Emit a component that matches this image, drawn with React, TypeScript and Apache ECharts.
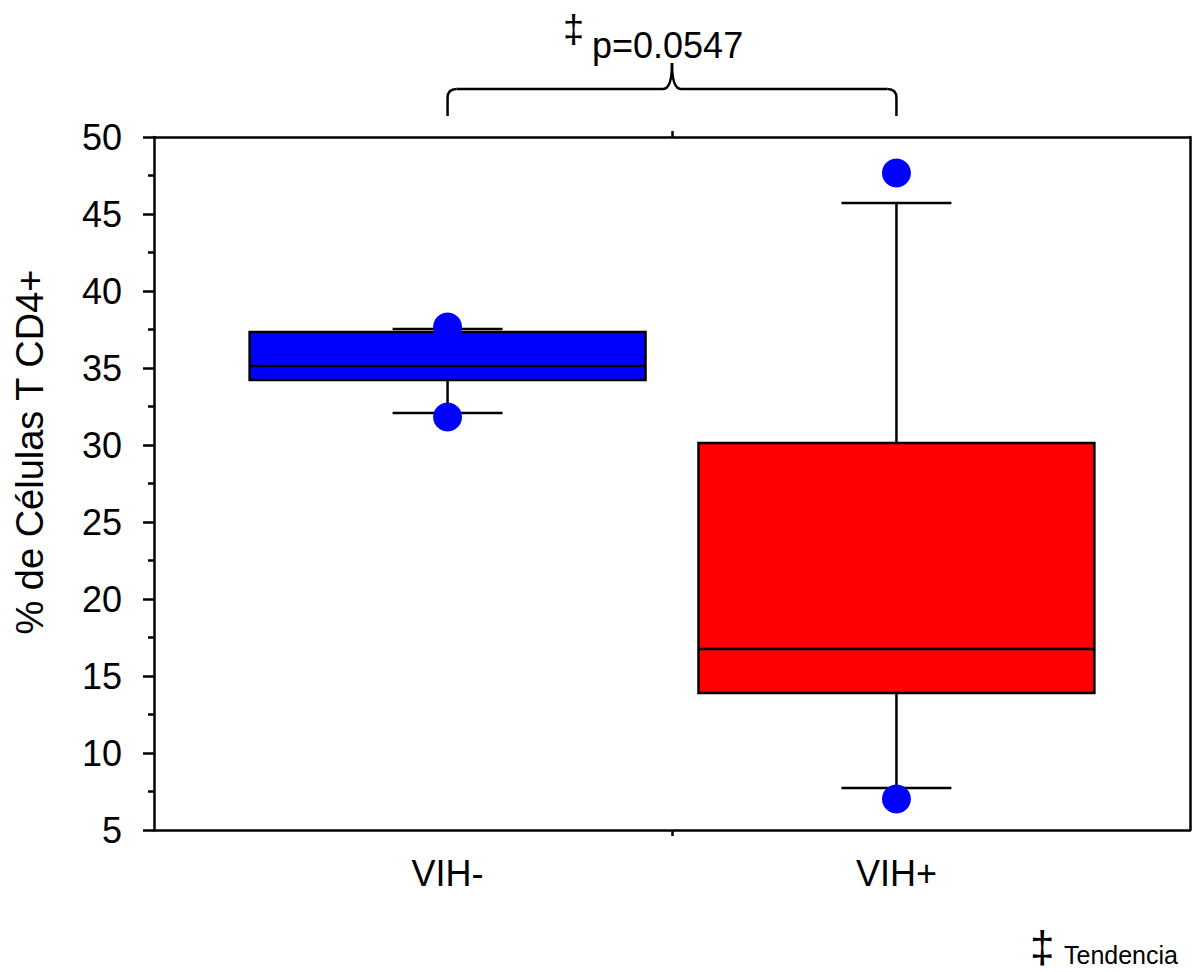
import React, { useEffect, useRef } from "react";
import * as echarts from "echarts";

const categories = ["VIH-", "VIH+"];
const positions = [1, 2];
// [low whisker, q1, median, q3, high whisker]
const boxStats = [
  [32.08, 34.22, 35.13, 37.34, 37.53],
  [7.73, 13.9, 16.75, 30.13, 45.71],
];
const boxColors = ["#0000ff", "#ff0000"];
const pointValues = [
  [1, 37.66],
  [1, 31.82],
  [2, 47.66],
  [2, 7.01],
];
const yTicks = { min: 5, max: 50, interval: 5 };
const pText = "p=0.0547";
const noteText = "Tendencia";
const yTitle = "% de Células T CD4+";

const FONT = "'Liberation Sans', Arial, sans-serif";

export default function App() {
  const ref = useRef<HTMLDivElement>(null);
  useEffect(() => {
    const chart = echarts.init(ref.current!, null, { renderer: "svg" });
    const boxData = positions.map((p, i) => [p, ...boxStats[i]]);
    const option: any = {
      animation: false,
      backgroundColor: "#ffffff",
      grid: { left: 154, right: 8, top: 137, bottom: 142 },
      xAxis: [
        {
          type: "value",
          min: 0.346,
          max: 2.654,
          position: "bottom",
          splitLine: { show: false },
          axisLine: { show: true, lineStyle: { color: "#000", width: 2.5 } },
          axisTick: { show: true, customValues: [1.5], length: 6, lineStyle: { color: "#000", width: 2.5 } },
          axisLabel: {
            show: true,
            customValues: positions,
            formatter: (v: number) => categories[positions.indexOf(Math.round(v))] ?? "",
            color: "#000",
            fontFamily: FONT,
            fontSize: 36,
            margin: 25,
          },
        },
        {
          type: "value",
          min: 0.346,
          max: 2.654,
          position: "top",
          splitLine: { show: false },
          axisLine: { show: true, onZero: false, lineStyle: { color: "#000", width: 2.5 } },
          axisTick: { show: true, customValues: [1.5], length: 6, lineStyle: { color: "#000", width: 2.5 } },
          axisLabel: { show: false },
        },
      ],
      yAxis: [
        {
          type: "value",
          min: yTicks.min,
          max: yTicks.max,
          interval: yTicks.interval,
          position: "left",
          splitLine: { show: false },
          axisLine: { show: true, onZero: false, lineStyle: { color: "#000", width: 2.5 } },
          axisTick: { show: true, length: 11, lineStyle: { color: "#000", width: 2.5 } },
          minorTick: { show: true, splitNumber: 2, length: 6, lineStyle: { color: "#000", width: 2.5 } },
          axisLabel: { color: "#000", fontFamily: FONT, fontSize: 36, margin: 32 },
        },
        {
          type: "value",
          min: yTicks.min,
          max: yTicks.max,
          position: "right",
          splitLine: { show: false },
          axisLine: { show: true, onZero: false, lineStyle: { color: "#000", width: 2.5 } },
          axisTick: { show: false },
          axisLabel: { show: false },
        },
      ],
      series: [
        {
          type: "custom",
          xAxisIndex: 0,
          yAxisIndex: 0,
          data: boxData,
          encode: { x: 0, y: [1, 2, 3, 4, 5] },
          renderItem: (params: any, api: any) => {
            const x = api.value(0);
            const lo = api.value(1), q1 = api.value(2), med = api.value(3), q3 = api.value(4), hi = api.value(5);
            const half = api.size([0.441, 0])[0];
            const cap = api.size([0.1225, 0])[0];
            const pLo = api.coord([x, lo]);
            const pQ1 = api.coord([x, q1]);
            const pMed = api.coord([x, med]);
            const pQ3 = api.coord([x, q3]);
            const pHi = api.coord([x, hi]);
            const cx = pLo[0];
            const ls = { stroke: "#000", lineWidth: 2.5 };
            const color = boxColors[params.dataIndex];
            return {
              type: "group",
              children: [
                { type: "line", shape: { x1: cx, y1: pQ3[1], x2: cx, y2: pHi[1] }, style: ls },
                { type: "line", shape: { x1: cx, y1: pQ1[1], x2: cx, y2: pLo[1] }, style: ls },
                { type: "line", shape: { x1: cx - cap, y1: pHi[1], x2: cx + cap, y2: pHi[1] }, style: ls },
                { type: "line", shape: { x1: cx - cap, y1: pLo[1], x2: cx + cap, y2: pLo[1] }, style: ls },
                {
                  type: "rect",
                  shape: { x: cx - half, y: pQ3[1], width: 2 * half, height: pQ1[1] - pQ3[1] },
                  style: { fill: color, stroke: "#000", lineWidth: 2.5 },
                },
                { type: "line", shape: { x1: cx - half, y1: pMed[1], x2: cx + half, y2: pMed[1] }, style: ls },
              ],
            };
          },
          z: 2,
        },
        {
          type: "scatter",
          xAxisIndex: 0,
          yAxisIndex: 0,
          data: pointValues,
          symbol: "circle",
          symbolSize: 29,
          itemStyle: { color: "#0000ff", opacity: 1 },
          z: 3,
        },
      ],
    };
    chart.setOption(option);

    const xL = chart.convertToPixel({ xAxisIndex: 0 }, positions[0]) as number;
    const xR = chart.convertToPixel({ xAxisIndex: 0 }, positions[1]) as number;
    const xM = (xL + xR) / 2;
    const yEnd = 116, yH = 89, yTip = 63, r = 9;
    const bs = { stroke: "#000", lineWidth: 2.5, fill: null };
    chart.setOption({
      graphic: [
        { type: "line", shape: { x1: xL, y1: yEnd, x2: xL, y2: yH + r }, style: bs },
        { type: "bezierCurve", shape: { x1: xL, y1: yH + r, cpx1: xL, cpy1: yH, x2: xL + r, y2: yH }, style: bs },
        { type: "line", shape: { x1: xL + r, y1: yH, x2: xM - r, y2: yH }, style: bs },
        { type: "bezierCurve", shape: { x1: xM - r, y1: yH, cpx1: xM, cpy1: yH, x2: xM, y2: yTip }, style: bs },
        { type: "bezierCurve", shape: { x1: xM + r, y1: yH, cpx1: xM, cpy1: yH, x2: xM, y2: yTip }, style: bs },
        { type: "line", shape: { x1: xM + r, y1: yH, x2: xR - r, y2: yH }, style: bs },
        { type: "bezierCurve", shape: { x1: xR - r, y1: yH, cpx1: xR, cpy1: yH, x2: xR, y2: yH + r }, style: bs },
        { type: "line", shape: { x1: xR, y1: yH + r, x2: xR, y2: yEnd }, style: bs },
        {
          type: "text",
          x: 30,
          y: 452,
          rotation: Math.PI / 2,
          style: { text: yTitle, fontFamily: FONT, fontSize: 38, fill: "#000", textAlign: "center", textVerticalAlign: "middle" },
        },
        {
          type: "text",
          x: 563,
          y: 29,
          style: { text: "‡", fontFamily: FONT, fontSize: 38, fill: "#000", textAlign: "left", textVerticalAlign: "middle" },
        },
        {
          type: "text",
          x: 592,
          y: 45,
          style: { text: pText, fontFamily: FONT, fontSize: 36, fill: "#000", textAlign: "left", textVerticalAlign: "middle" },
        },
        {
          type: "text",
          x: 1030,
          y: 946,
          style: { text: "‡", fontFamily: FONT, fontSize: 44, fill: "#000", textAlign: "left", textVerticalAlign: "middle" },
        },
        {
          type: "text",
          x: 1064,
          y: 955,
          style: { text: noteText, fontFamily: FONT, fontSize: 25, fill: "#000", textAlign: "left", textVerticalAlign: "middle" },
        },
      ],
    });
    return () => chart.dispose();
  }, []);
  return <div ref={ref} style={{ position: "fixed", left: 0, top: 0, width: 1198, height: 972 }} />;
}
